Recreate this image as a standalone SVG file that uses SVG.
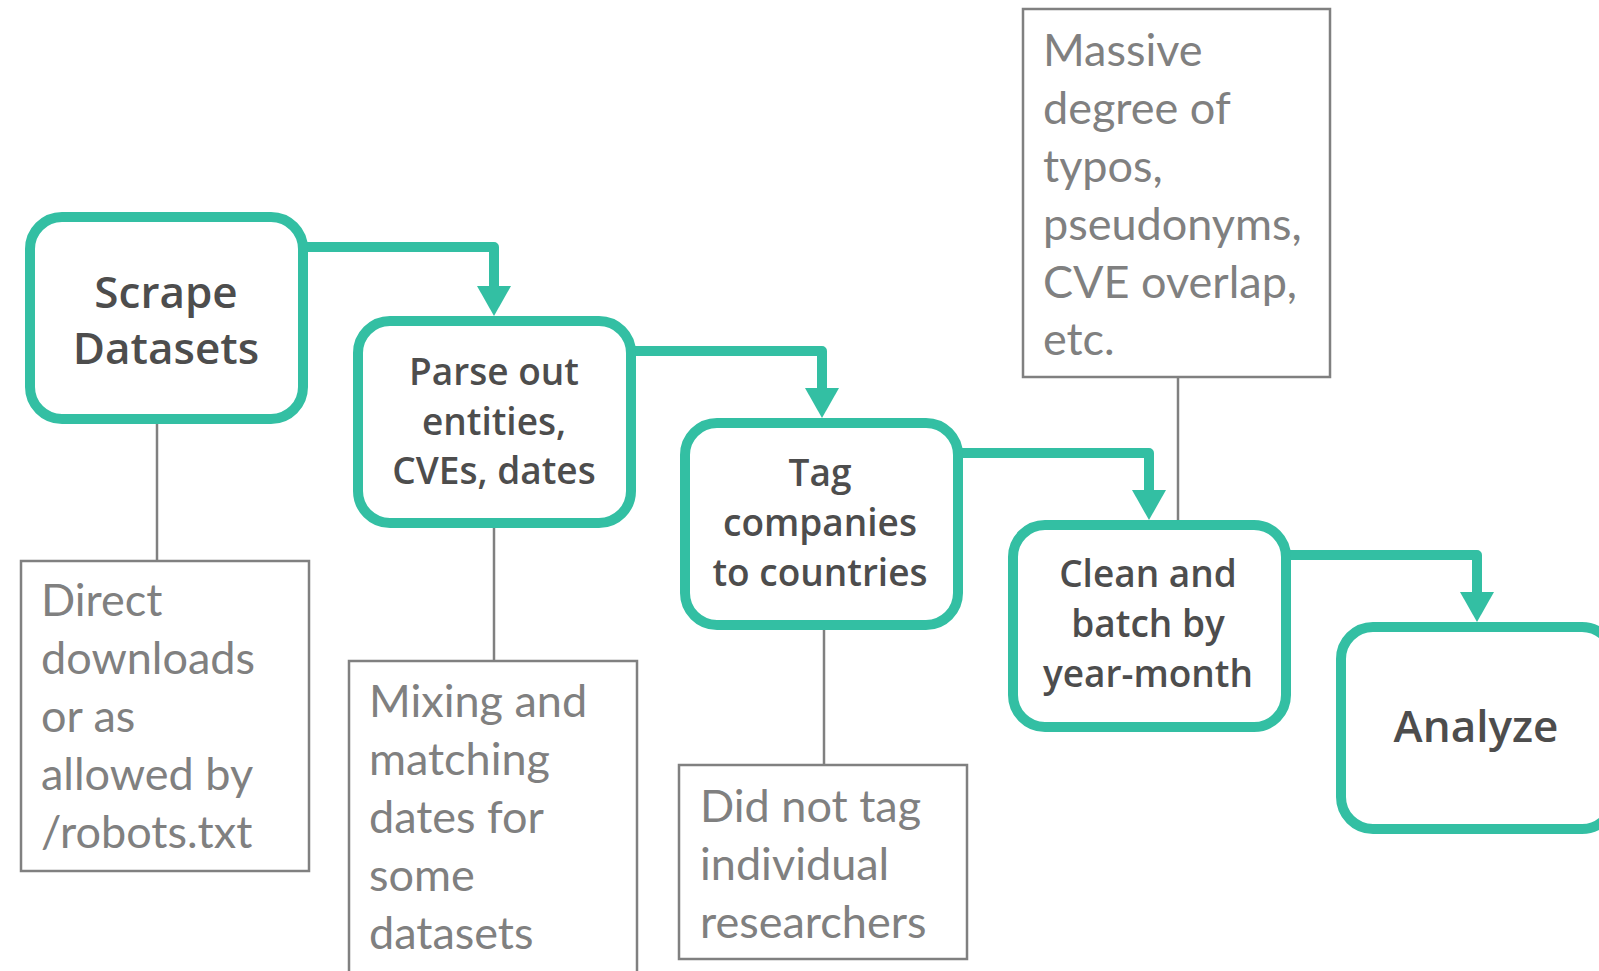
<svg xmlns="http://www.w3.org/2000/svg" width="1599" height="971" viewBox="0 0 1599 971">
<style>
.node rect{fill:#ffffff;stroke:#33bfa3;stroke-width:10}
.lbl{font-family:"Open Sans","Noto Sans",sans-serif;font-weight:600;fill:#4d4d4d;text-anchor:middle}
.big{font-size:44px}
.sm{font-size:37px}
.note rect{fill:#ffffff;stroke:#808080;stroke-width:2.5}
.nt{font-family:Lato,"Open Sans",sans-serif;font-size:45px;fill:#808080}
.flow{fill:none;stroke:#33bfa3;stroke-width:10;stroke-linejoin:round}
.tie{stroke:#808080;stroke-width:2.5;fill:none}
</style>
<defs>
<marker id="ah" markerUnits="userSpaceOnUse" markerWidth="32" markerHeight="34" viewBox="0 0 32 34" refX="2" refY="17" orient="auto">
<path d="M0,0 L30,17 L0,34 z" fill="#33bfa3"/>
</marker>
</defs>
<rect width="1599" height="971" fill="#ffffff"/>
<g id="connectors">
<path class="tie" d="M157 423 V561"/>
<path class="tie" d="M494 528 V661"/>
<path class="tie" d="M824 630 V765"/>
<path class="tie" d="M1178 377 V520"/>
<path class="flow" d="M302 247 H494 V288" marker-end="url(#ah)"/>
<path class="flow" d="M630 351 H822 V390" marker-end="url(#ah)"/>
<path class="flow" d="M957 453 H1149 V492" marker-end="url(#ah)"/>
<path class="flow" d="M1285 555 H1477 V594" marker-end="url(#ah)"/>
</g>
<g id="scrape" class="node">
<rect x="30" y="217" width="273" height="202" rx="32"/>
<text class="lbl big" x="166" y="308">Scrape</text>
<text class="lbl big" x="166" y="364">Datasets</text>
</g>
<g id="parse" class="node">
<rect x="358" y="321" width="273" height="202" rx="32"/>
<text class="lbl sm" x="494" y="385">Parse out</text>
<text class="lbl sm" x="494" y="435">entities,</text>
<text class="lbl sm" x="494" y="484">CVEs, dates</text>
</g>
<g id="tag" class="node">
<rect x="685" y="423" width="273" height="202" rx="32"/>
<text class="lbl sm" x="820" y="486">Tag</text>
<text class="lbl sm" x="820" y="536">companies</text>
<text class="lbl sm" x="820" y="586">to countries</text>
</g>
<g id="clean" class="node">
<rect x="1013" y="525" width="273" height="202" rx="32"/>
<text class="lbl sm" x="1148" y="587">Clean and</text>
<text class="lbl sm" x="1148" y="637">batch by</text>
<text class="lbl sm" x="1148" y="687">year-month</text>
</g>
<g id="analyze" class="node">
<rect x="1341" y="627" width="273" height="202" rx="32"/>
<text class="lbl big" x="1476" y="742">Analyze</text>
</g>
<g id="note-direct" class="note">
<rect x="21" y="561" width="288" height="310"/>
<text class="nt" x="41" y="616">Direct</text>
<text class="nt" x="41" y="674">downloads</text>
<text class="nt" x="41" y="732">or as</text>
<text class="nt" x="41" y="790">allowed by</text>
<text class="nt" x="41" y="848">/robots.txt</text>
</g>
<g id="note-mixing" class="note">
<rect x="349" y="661" width="288" height="320"/>
<text class="nt" x="369" y="717">Mixing and</text>
<text class="nt" x="369" y="775">matching</text>
<text class="nt" x="369" y="833">dates for</text>
<text class="nt" x="369" y="891">some</text>
<text class="nt" x="369" y="949">datasets</text>
</g>
<g id="note-didnot" class="note">
<rect x="679" y="765" width="288" height="194"/>
<text class="nt" x="700" y="822">Did not tag</text>
<text class="nt" x="700" y="880">individual</text>
<text class="nt" x="700" y="938">researchers</text>
</g>
<g id="note-massive" class="note">
<rect x="1023" y="9" width="307" height="368"/>
<text class="nt" x="1043" y="66">Massive</text>
<text class="nt" x="1043" y="124">degree of</text>
<text class="nt" x="1043" y="182">typos,</text>
<text class="nt" x="1043" y="240">pseudonyms,</text>
<text class="nt" x="1043" y="298">CVE overlap,</text>
<text class="nt" x="1043" y="355">etc.</text>
</g>
</svg>
